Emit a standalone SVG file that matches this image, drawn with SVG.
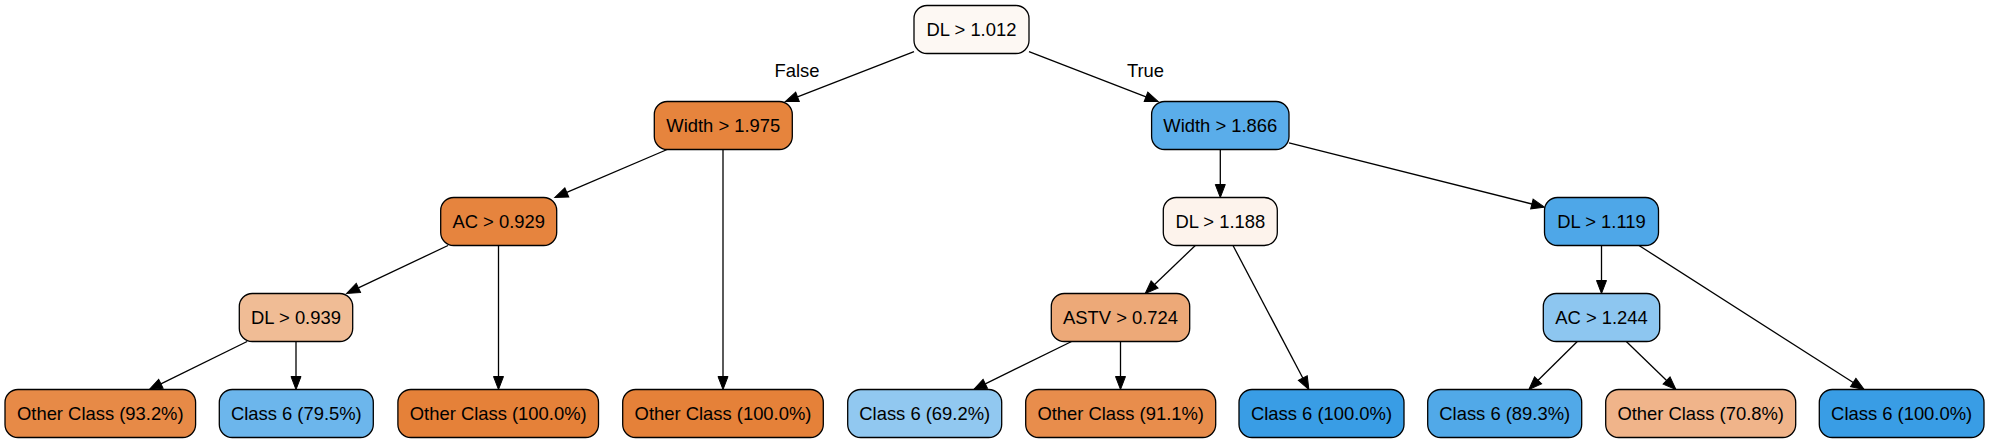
<svg xmlns="http://www.w3.org/2000/svg" width="1989" height="443" viewBox="0 0 1989 443">
<style>
.box{stroke:#000;stroke-width:1.3}
.lbl{font-family:"Liberation Sans",Arial,Helvetica,sans-serif;font-size:18.4px;fill:#000;text-anchor:middle}
.edge{fill:none;stroke:#000;stroke-width:1.3}
</style>
<defs>
<marker id="arr" markerUnits="userSpaceOnUse" markerWidth="14" markerHeight="11" refX="0" refY="5" orient="auto" viewBox="0 0 14 10" overflow="visible">
<path d="M0,0 L13,5 L0,10 z" fill="#000" stroke="#000" stroke-width="1"/>
</marker>
</defs>
<rect width="1989" height="443" fill="#fff"/>
<g id="connectors">
<line class="edge" x1="914" y1="51.7" x2="797.5" y2="96.8" marker-end="url(#arr)"/>
<line class="edge" x1="1029" y1="51.7" x2="1146" y2="96.8" marker-end="url(#arr)"/>
<line class="edge" x1="667.2" y1="149.5" x2="566.8" y2="192.4" marker-end="url(#arr)"/>
<line class="edge" x1="723" y1="149.5" x2="723" y2="376.5" marker-end="url(#arr)"/>
<line class="edge" x1="448" y1="245.5" x2="358.4" y2="287.9" marker-end="url(#arr)"/>
<line class="edge" x1="498.5" y1="245.5" x2="498.5" y2="376.5" marker-end="url(#arr)"/>
<line class="edge" x1="247.1" y1="341.5" x2="160.9" y2="383.8" marker-end="url(#arr)"/>
<line class="edge" x1="296" y1="341.5" x2="296" y2="376.5" marker-end="url(#arr)"/>
<line class="edge" x1="1220.3" y1="149.5" x2="1220.3" y2="184.5" marker-end="url(#arr)"/>
<line class="edge" x1="1289" y1="142.8" x2="1531.9" y2="204" marker-end="url(#arr)"/>
<line class="edge" x1="1195.3" y1="245.5" x2="1154.6" y2="284.5" marker-end="url(#arr)"/>
<line class="edge" x1="1233" y1="245.5" x2="1302.8" y2="378" marker-end="url(#arr)"/>
<line class="edge" x1="1071.6" y1="341.5" x2="985.3" y2="383.8" marker-end="url(#arr)"/>
<line class="edge" x1="1120.5" y1="341.5" x2="1120.5" y2="376.5" marker-end="url(#arr)"/>
<line class="edge" x1="1601.5" y1="245.5" x2="1601.5" y2="280.5" marker-end="url(#arr)"/>
<line class="edge" x1="1639" y1="245.5" x2="1853.2" y2="382.5" marker-end="url(#arr)"/>
<line class="edge" x1="1577.3" y1="341.5" x2="1538.1" y2="380.3" marker-end="url(#arr)"/>
<line class="edge" x1="1626.3" y1="341.5" x2="1666.6" y2="380.5" marker-end="url(#arr)"/>
<text class="lbl" x="797" y="76.5">False</text>
<text class="lbl" x="1145.5" y="76.5">True</text>
</g>
<g id="n0"><rect class="box" x="914" y="5.5" width="115" height="48" rx="13" fill="#fdf8f3"/><text class="lbl" x="971.5" y="36">DL &gt; 1.012</text></g>
<g id="n1"><rect class="box" x="654.3" y="101.5" width="138" height="48" rx="13" fill="#e6843d"/><text class="lbl" x="723.3" y="132">Width &gt; 1.975</text></g>
<g id="n2"><rect class="box" x="1151.6" y="101.5" width="137.4" height="48" rx="13" fill="#5aadea"/><text class="lbl" x="1220.3" y="132">Width &gt; 1.866</text></g>
<g id="n3"><rect class="box" x="440.7" y="197.5" width="116" height="48" rx="13" fill="#e6843e"/><text class="lbl" x="498.7" y="228">AC &gt; 0.929</text></g>
<g id="n4"><rect class="box" x="1163.3" y="197.5" width="114" height="48" rx="13" fill="#fdf3ec"/><text class="lbl" x="1220.3" y="228">DL &gt; 1.188</text></g>
<g id="n5"><rect class="box" x="1544.5" y="197.5" width="114" height="48" rx="13" fill="#4ea7e8"/><text class="lbl" x="1601.5" y="228">DL &gt; 1.119</text></g>
<g id="n6"><rect class="box" x="239.3" y="293.5" width="113.4" height="48" rx="13" fill="#f0bc95"/><text class="lbl" x="296" y="324">DL &gt; 0.939</text></g>
<g id="n7"><rect class="box" x="1051.3" y="293.5" width="138.4" height="48" rx="13" fill="#eda978"/><text class="lbl" x="1120.5" y="324">ASTV &gt; 0.724</text></g>
<g id="n8"><rect class="box" x="1543.3" y="293.5" width="116.4" height="48" rx="13" fill="#8dc6f0"/><text class="lbl" x="1601.5" y="324">AC &gt; 1.244</text></g>
<g id="l0"><rect class="box" x="5" y="389.5" width="190.6" height="48" rx="13" fill="#e78a47"/><text class="lbl" x="100.3" y="420">Other Class (93.2%)</text></g>
<g id="l1"><rect class="box" x="219.3" y="389.5" width="154" height="48" rx="13" fill="#6cb6ec"/><text class="lbl" x="296.3" y="420">Class 6 (79.5%)</text></g>
<g id="l2"><rect class="box" x="397.9" y="389.5" width="200.6" height="48" rx="13" fill="#e58139"/><text class="lbl" x="498.2" y="420">Other Class (100.0%)</text></g>
<g id="l3"><rect class="box" x="622.7" y="389.5" width="200.6" height="48" rx="13" fill="#e58139"/><text class="lbl" x="723" y="420">Other Class (100.0%)</text></g>
<g id="l4"><rect class="box" x="847.7" y="389.5" width="154" height="48" rx="13" fill="#91c8f0"/><text class="lbl" x="924.7" y="420">Class 6 (69.2%)</text></g>
<g id="l5"><rect class="box" x="1025.7" y="389.5" width="190" height="48" rx="13" fill="#e88d4c"/><text class="lbl" x="1120.7" y="420">Other Class (91.1%)</text></g>
<g id="l6"><rect class="box" x="1239" y="389.5" width="165" height="48" rx="13" fill="#399de5"/><text class="lbl" x="1321.5" y="420">Class 6 (100.0%)</text></g>
<g id="l7"><rect class="box" x="1427.7" y="389.5" width="154" height="48" rx="13" fill="#51a9e8"/><text class="lbl" x="1504.7" y="420">Class 6 (89.3%)</text></g>
<g id="l8"><rect class="box" x="1605.7" y="389.5" width="190" height="48" rx="13" fill="#f0b48a"/><text class="lbl" x="1700.7" y="420">Other Class (70.8%)</text></g>
<g id="l9"><rect class="box" x="1819.3" y="389.5" width="164.7" height="48" rx="13" fill="#399de5"/><text class="lbl" x="1901.65" y="420">Class 6 (100.0%)</text></g>
</svg>
